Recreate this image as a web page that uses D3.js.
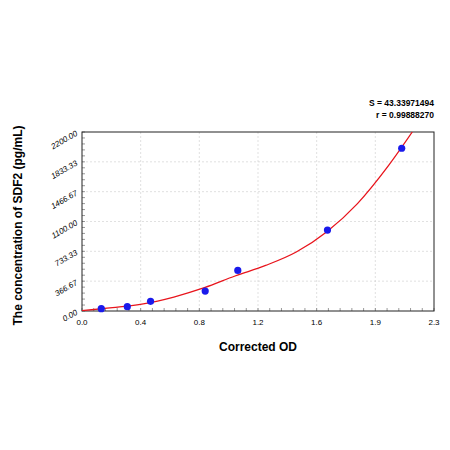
<!DOCTYPE html>
<html><head><meta charset="utf-8">
<script src="https://cdn.jsdelivr.net/npm/d3@7"></script>
<style>body{margin:0;background:#fff}text{font-family:Arial,"Liberation Sans",sans-serif}</style>
</head><body><svg width="450" height="450"></svg>
<script>
const pointsX = [0.126, 0.296, 0.448, 0.805, 1.018, 1.604, 2.089];
const pointsY = [28, 53, 119, 245, 499, 994, 2000];
const curveX = [0, 0.2, 0.4, 0.6, 0.8, 1.0, 1.2, 1.4, 1.6, 1.8, 2.0, 2.158];
const curveY = [5, 42, 88, 172, 286, 430, 560, 725, 975, 1320, 1780, 2200];
const xTicks = [0, 1, 2, 3, 4, 5, 6].map(i => i * 2.3 / 6);
const xLabels = ["0.0", "0.4", "0.8", "1.2", "1.6", "1.9", "2.3"];
const yTicks = [0, 1, 2, 3, 4, 5, 6].map(i => i * 2200 / 6);
const yLabels = ["0.00", "366.67", "733.33", "1100.00", "1466.67", "1833.33", "2200.00"];

const svg = d3.select("svg");
const mLeft = 82, mRight = 434, mTop = 132, mBottom = 311;
const x = d3.scaleLinear().domain([0, 2.3]).range([mLeft, mRight]);
const y = d3.scaleLinear().domain([0, 2200]).range([mBottom, mTop]);

// grid
svg.append("g").selectAll("line").data(xTicks.slice(1, -1)).join("line")
  .attr("x1", d => x(d)).attr("x2", d => x(d)).attr("y1", mTop).attr("y2", mBottom)
  .attr("stroke", "#ccc").attr("stroke-dasharray", "2,2").attr("stroke-width", 0.6);
svg.append("g").selectAll("line").data(yTicks.slice(1, -1)).join("line")
  .attr("x1", mLeft).attr("x2", mRight).attr("y1", d => y(d)).attr("y2", d => y(d))
  .attr("stroke", "#ccc").attr("stroke-dasharray", "2,2").attr("stroke-width", 0.6);

// minor ticks
const xMinor = d3.range(0, 31).map(i => i * 2.3 / 30);
const yMinor = d3.range(0, 31).map(i => i * 2200 / 30);
svg.append("g").selectAll("line").data(xMinor).join("line")
  .attr("x1", d => x(d)).attr("x2", d => x(d)).attr("y1", mBottom).attr("y2", mBottom - 3)
  .attr("stroke", "#555").attr("stroke-width", 0.6);
svg.append("g").selectAll("line").data(yMinor).join("line")
  .attr("x1", mLeft).attr("x2", mLeft + 3).attr("y1", d => y(d)).attr("y2", d => y(d))
  .attr("stroke", "#555").attr("stroke-width", 0.6);

svg.append("rect").attr("x", mLeft).attr("y", mTop).attr("width", mRight - mLeft).attr("height", mBottom - mTop)
  .attr("fill", "none").attr("stroke", "#222").attr("stroke-width", 1);

// tick labels
svg.append("g").selectAll("text").data(xTicks).join("text")
  .attr("x", d => x(d)).attr("y", mBottom + 14).attr("text-anchor", "middle")
  .style("font-size", "8px").text((d, i) => xLabels[i]);
svg.append("g").selectAll("text").data(yTicks).join("text")
  .attr("transform", d => `translate(${mLeft - 4},${y(d) + 3}) rotate(-30)`)
  .attr("text-anchor", "end").style("font-size", "8px").style("font-style", "italic")
  .text((d, i) => yLabels[i]);

// curve
svg.append("defs").append("clipPath").attr("id", "clip").append("rect")
  .attr("x", mLeft).attr("y", mTop).attr("width", mRight - mLeft).attr("height", mBottom - mTop);
svg.append("path").datum(curveX.map((d, i) => [d, curveY[i]]))
  .attr("clip-path", "url(#clip)")
  .attr("d", d3.line().x(d => x(d[0])).y(d => y(d[1])).curve(d3.curveMonotoneX))
  .attr("fill", "none").attr("stroke", "#e8141c").attr("stroke-width", 1.3);

svg.append("g").selectAll("circle").data(pointsX).join("circle")
  .attr("cx", d => x(d)).attr("cy", (d, i) => y(pointsY[i])).attr("r", 3.6)
  .attr("fill", "#1a1aeb");

// titles
svg.append("text").attr("x", mRight).attr("y", 106).attr("text-anchor", "end")
  .style("font-size", "8.5px").style("font-weight", "bold").text("S = 43.33971494");
svg.append("text").attr("x", mRight).attr("y", 118).attr("text-anchor", "end")
  .style("font-size", "8.5px").style("font-weight", "bold").text("r = 0.99888270");
svg.append("text").attr("x", (mLeft + mRight) / 2).attr("y", 351).attr("text-anchor", "middle")
  .style("font-size", "12px").style("font-weight", "bold").text("Corrected OD");
svg.append("text").attr("transform", `translate(22,${(mTop + mBottom) / 2 + 4}) rotate(-90)`)
  .attr("text-anchor", "middle").style("font-size", "12px").style("font-weight", "bold")
  .text("The concentration of SDF2 (pg/mL)");
</script></body></html>
